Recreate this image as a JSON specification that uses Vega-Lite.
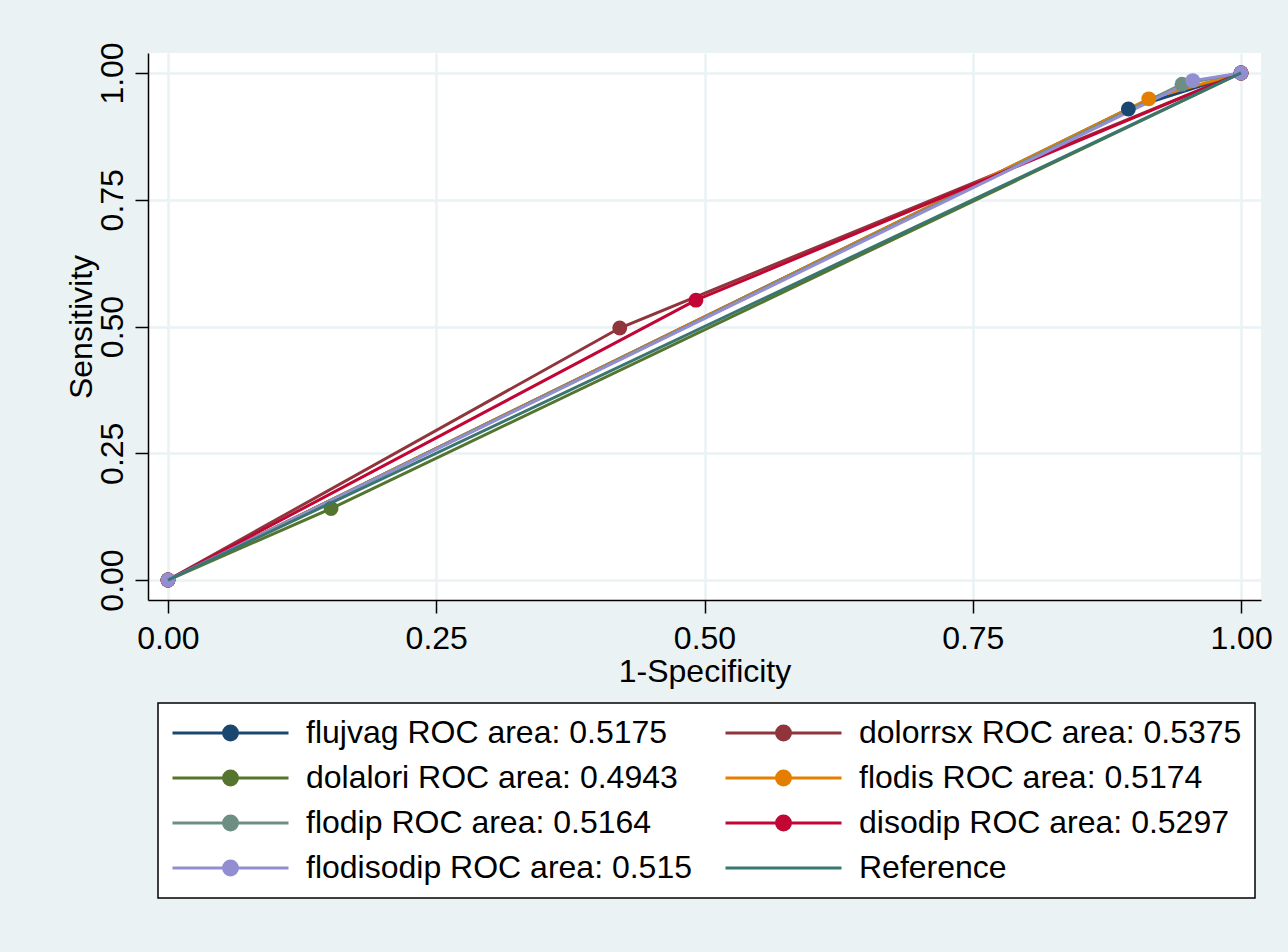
{
  "$schema": "https://vega.github.io/schema/vega-lite/v6.json",
  "width": 1113,
  "height": 547,
  "autosize": {"type": "none"},
  "padding": {"left": 148, "top": 53, "right": 27, "bottom": 352},
  "background": "#eaf2f3",
  "config": {
    "font": "Liberation Sans",
    "view": {"fill": "white", "stroke": null},
    "axis": {
      "labelFont": "Liberation Sans",
      "labelFontSize": 32,
      "labelColor": "black",
      "titleFont": "Liberation Sans",
      "titleFontSize": 32,
      "titleFontWeight": "normal",
      "titleColor": "black",
      "domainColor": "black",
      "domainWidth": 1.5,
      "tickColor": "black",
      "tickWidth": 1.5,
      "tickSize": 13,
      "gridColor": "#eaf2f3",
      "gridWidth": 2.5,
      "gridOpacity": 1
    },
    "legend": {
      "labelFont": "Liberation Sans"
    }
  },
  "data": {
    "values": [
      {"series": "flujvag ROC area: 0.5175", "fpr": 0, "tpr": 0},
      {"series": "flujvag ROC area: 0.5175", "fpr": 0.895, "tpr": 0.929},
      {"series": "flujvag ROC area: 0.5175", "fpr": 1, "tpr": 1},
      {"series": "dolorrsx ROC area: 0.5375", "fpr": 0, "tpr": 0},
      {"series": "dolorrsx ROC area: 0.5375", "fpr": 0.421, "tpr": 0.497},
      {"series": "dolorrsx ROC area: 0.5375", "fpr": 1, "tpr": 1},
      {"series": "dolalori ROC area: 0.4943", "fpr": 0, "tpr": 0},
      {"series": "dolalori ROC area: 0.4943", "fpr": 0.152, "tpr": 0.141},
      {"series": "dolalori ROC area: 0.4943", "fpr": 1, "tpr": 1},
      {"series": "flodis ROC area: 0.5174", "fpr": 0, "tpr": 0},
      {"series": "flodis ROC area: 0.5174", "fpr": 0.914, "tpr": 0.949},
      {"series": "flodis ROC area: 0.5174", "fpr": 1, "tpr": 1},
      {"series": "flodip ROC area: 0.5164", "fpr": 0, "tpr": 0},
      {"series": "flodip ROC area: 0.5164", "fpr": 0.945, "tpr": 0.978},
      {"series": "flodip ROC area: 0.5164", "fpr": 1, "tpr": 1},
      {"series": "disodip ROC area: 0.5297", "fpr": 0, "tpr": 0},
      {"series": "disodip ROC area: 0.5297", "fpr": 0.492, "tpr": 0.552},
      {"series": "disodip ROC area: 0.5297", "fpr": 1, "tpr": 1},
      {"series": "flodisodip ROC area: 0.515", "fpr": 0, "tpr": 0},
      {"series": "flodisodip ROC area: 0.515", "fpr": 0.955, "tpr": 0.985},
      {"series": "flodisodip ROC area: 0.515", "fpr": 1, "tpr": 1},
      {"series": "Reference", "fpr": 0, "tpr": 0},
      {"series": "Reference", "fpr": 1, "tpr": 1}
    ]
  },
  "encoding": {
    "x": {
      "field": "fpr",
      "type": "quantitative",
      "scale": {"domain": [-0.0186, 1.0186], "nice": false, "zero": false},
      "axis": {
        "values": [0, 0.25, 0.5, 0.75, 1],
        "format": ".2f",
        "title": "1-Specificity",
        "labelPadding": 10,
        "titlePadding": 2
      }
    },
    "y": {
      "field": "tpr",
      "type": "quantitative",
      "scale": {"domain": [-0.0394, 1.0394], "nice": false, "zero": false},
      "axis": {
        "values": [0, 0.25, 0.5, 0.75, 1],
        "format": ".2f",
        "title": "Sensitivity",
        "labelAngle": 270,
        "labelAlign": "center",
        "labelBaseline": "bottom",
        "labelPadding": 6,
        "titlePadding": -2
      }
    },
    "color": {
      "field": "series",
      "type": "nominal",
      "scale": {
        "domain": [
          "flujvag ROC area: 0.5175",
          "dolalori ROC area: 0.4943",
          "flodip ROC area: 0.5164",
          "flodisodip ROC area: 0.515",
          "dolorrsx ROC area: 0.5375",
          "flodis ROC area: 0.5174",
          "disodip ROC area: 0.5297",
          "Reference"
        ],
        "range": ["#1a476f", "#55752f", "#6e8e84", "#938dd2", "#90353b", "#e37e00", "#c10534", "#3a7670"]
      },
      "legend": {
        "title": null,
        "orient": "none",
        "legendX": 10,
        "legendY": 650,
        "columns": 2,
        "columnPadding": 32,
        "rowPadding": 11,
        "clipHeight": 34,
        "padding": 13,
        "fillColor": "white",
        "strokeColor": "black",
        "labelFontSize": 32,
        "labelColor": "black",
        "labelOffset": 16,
        "labelLimit": 700,
        "symbolSize": 13456,
        "symbolStrokeWidth": 3,
        "encode": {
          "legend": {
            "update": {
              "strokeWidth": {"value": 1.5}
            }
          },
          "symbols": {
            "update": {
              "shape": {"signal": "datum.value === 'Reference' ? 'M-1,0L1,0' : 'M-1,0L1,0M0.12,0A0.12,0.12,0,1,1,-0.12,0A0.12,0.12,0,1,1,0.12,0Z'"},
              "fill": {"signal": "scale('color', datum.value)"},
              "stroke": {"signal": "scale('color', datum.value)"},
              "strokeWidth": {"value": 3},
              "opacity": {"value": 1},
              "size": {"value": 13456}
            }
          }
        }
      }
    }
  },
  "layer": [
    {
      "transform": [{"filter": "datum.series !== 'Reference'"}],
      "mark": {"type": "line", "strokeWidth": 3}
    },
    {
      "transform": [{"filter": "datum.series !== 'Reference'"}],
      "mark": {"type": "point", "filled": true, "size": 220, "opacity": 1}
    },
    {
      "transform": [{"filter": "datum.series === 'Reference'"}],
      "mark": {"type": "line", "strokeWidth": 3}
    }
  ]
}
